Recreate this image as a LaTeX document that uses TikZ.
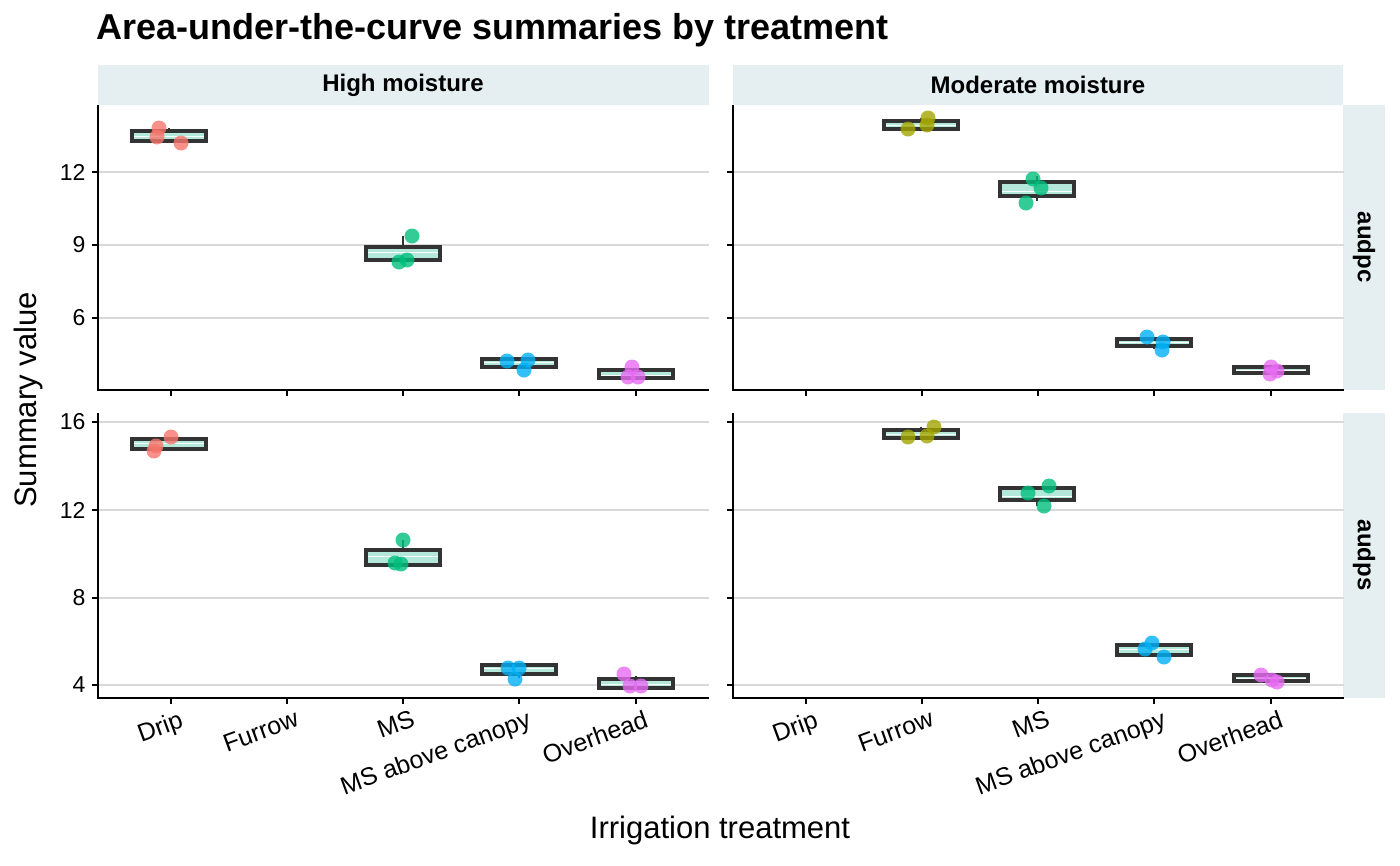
\documentclass[tikz,border=0pt]{standalone}
\usepackage{fontspec}
\setmainfont{Liberation Sans}
\definecolor{cD}{HTML}{F8766D}\definecolor{cF}{HTML}{A3A500}\definecolor{cM}{HTML}{00BF7D}
\definecolor{cA}{HTML}{00B0F6}\definecolor{cO}{HTML}{E76BF3}
\definecolor{boxf}{HTML}{B4E8DA}\definecolor{strip}{HTML}{E5EFF2}\definecolor{grid}{HTML}{D9D9D9}
\newcommand\bxp[5]{% xcenter ytop ybot ymed
 \filldraw[fill=boxf,draw=black!80,line width=3.6pt] (#1-37,#2) rectangle (#1+37,#3);
 \draw[white,line width=1pt] (#1-35,#4)--(#1+35,#4);}
\newcommand\wh[3]{\draw[black!80,line width=1.6pt] (#1,#2)--(#1,#3);}
\newcommand\pt[3]{\fill[#1,opacity=.8] (#2,#3) circle (7.5);}
\begin{document}
\begin{tikzpicture}[x=1pt,y=-1pt,
 tick/.style={font=\fontsize{23}{23}\selectfont},
 xl/.style={font=\fontsize{25}{25}\selectfont,rotate=20,anchor=north east,inner sep=1pt},
 sl/.style={font=\bfseries\fontsize{24}{24}\selectfont}]
\useasboundingbox (0,0) rectangle (1400,865);
% strips
\fill[strip] (98,65) rectangle (709,105); \fill[strip] (733,65) rectangle (1343,105);
\fill[strip] (1343,105) rectangle (1385,390); \fill[strip] (1343,413) rectangle (1385,698);
\node[sl] (s1) at (403,85) {High moisture};
\node[sl] (s2) at (1038,85) {Moderate moisture};
\node[sl,rotate=-90] (s3) at (1364,247) {audpc};
\node[sl,rotate=-90] (s4) at (1364,555) {audps};
% grids
\foreach \o in {0,635}{
 \foreach \y in {172,245,318,422,510,598,685}{\draw[grid,line width=1.2pt] (98+\o,\y)--(709+\o,\y);}
 \draw[line width=1.5pt] (98+\o,105)--(98+\o,390)--(709+\o,390);
 \draw[line width=1.5pt] (98+\o,413)--(98+\o,698)--(709+\o,698);
 \foreach \y in {172,245,318,422,510,598,685}{\draw[line width=1.5pt] (92+\o,\y)--(98+\o,\y);}
 \foreach \x in {171,287,403,519,636}{\draw[line width=1.5pt] (\x+\o,390)--(\x+\o,396); \draw[line width=1.5pt] (\x+\o,698)--(\x+\o,704);}
}
\foreach \y/\t in {172/12,245/9,318/6,422/16,510/12,598/8,685/4}{\node[tick,anchor=east] at (89,\y) {\t};}
% x labels
\foreach \o in {0,635}{
 \foreach \x/\t in {171/Drip,287/Furrow,403/MS,519/MS above canopy,636/Overhead}{\node[xl] at (\x+\o+8,708) {\t};}}
% top-left
\wh{169}{128}{143}\bxp{169}{131}{141}{136}{}
\pt{cD}{159}{128}\pt{cD}{157}{137}\pt{cD}{181}{143}
\wh{403}{236}{262}\bxp{403}{247}{260}{252}{}
\pt{cM}{412}{236}\pt{cM}{399}{262}\pt{cM}{407}{260}
\wh{519}{358}{369}\bxp{519}{359}{367}{362}{}
\pt{cA}{507}{361}\pt{cA}{528}{360}\pt{cA}{524}{370}
\wh{636}{368}{379}\bxp{636}{370}{378}{375}{}
\pt{cO}{632}{367}\pt{cO}{628}{377}\pt{cO}{638}{377}
% top-right
\wh{921}{118}{130}\bxp{921}{121}{129}{125}{}
\pt{cF}{908}{129}\pt{cF}{928}{118}\pt{cF}{927}{125}
\wh{1037}{176}{201}\bxp{1037}{182}{196}{191}{}
\pt{cM}{1033}{179}\pt{cM}{1041}{188}\pt{cM}{1026}{203}
\wh{1154}{337}{349}\bxp{1154}{339}{346}{342}{}
\pt{cA}{1147}{337}\pt{cA}{1163}{342}\pt{cA}{1162}{350}
\wh{1271}{366}{374}\bxp{1271}{367}{373}{370}{}
\pt{cO}{1271}{367}\pt{cO}{1270}{374}\pt{cO}{1277}{371}
% bottom-left
\wh{169}{437}{451}\bxp{169}{439}{449}{443}{}
\pt{cD}{171}{437}\pt{cD}{156}{446}\pt{cD}{154}{451}
\wh{403}{540}{565}\bxp{403}{550}{565}{556}{}
\pt{cM}{403}{540}\pt{cM}{395}{563}\pt{cM}{401}{564}
\wh{519}{665}{678}\bxp{519}{665}{674}{668}{}
\pt{cA}{508}{668}\pt{cA}{519}{668}\pt{cA}{515}{679}
\wh{636}{676}{688}\bxp{636}{679}{688}{684}{}
\pt{cO}{624}{674}\pt{cO}{630}{686}\pt{cO}{641}{686}
% bottom-right
\wh{921}{427}{438}\bxp{921}{430}{438}{434}{}
\pt{cF}{908}{437}\pt{cF}{934}{427}\pt{cF}{927}{436}
\wh{1037}{486}{506}\bxp{1037}{488}{500}{496}{}
\pt{cM}{1028}{493}\pt{cM}{1049}{486}\pt{cM}{1044}{506}
\wh{1154}{643}{657}\bxp{1154}{645}{655}{649}{}
\pt{cA}{1145}{649}\pt{cA}{1152}{643}\pt{cA}{1164}{657}
\wh{1271}{675}{682}\bxp{1271}{675}{681}{678}{}
\pt{cO}{1261}{675}\pt{cO}{1272}{680}\pt{cO}{1277}{682}
% titles
\node[anchor=west,font=\bfseries\fontsize{36}{36}\selectfont] (t) at (93,30) {Area-under-the-curve summaries by treatment};
\node[font=\fontsize{31}{31}\selectfont] (xt) at (720,830) {Irrigation treatment};
\node[font=\fontsize{31}{31}\selectfont,rotate=90] (yt) at (28,400) {Summary value};
\end{tikzpicture}
\end{document}
